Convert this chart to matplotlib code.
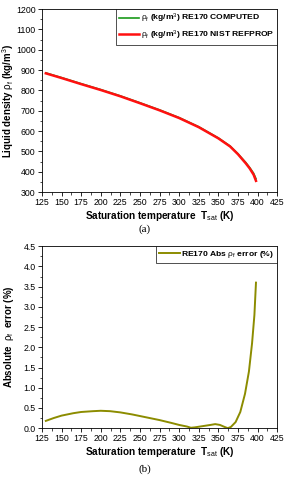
import numpy as np
import matplotlib
matplotlib.use("Agg")
import matplotlib.pyplot as plt
from matplotlib.ticker import MultipleLocator

plt.rcParams['font.family'] = ['Liberation Sans', 'DejaVu Sans']
plt.rcParams['mathtext.fontset'] = 'custom'
plt.rcParams['mathtext.rm'] = 'Liberation Sans'
plt.rcParams['mathtext.it'] = 'Liberation Sans'
plt.rcParams['mathtext.bf'] = 'Liberation Sans:bold'

# Liquid density (a)
t_dens = [130, 150, 175, 200, 225, 250, 275, 300, 325, 350, 365, 375, 385, 390, 395, 398]
rho_computed = [886, 863, 833, 804, 773, 739, 704, 666, 621, 566, 526, 488, 445, 420, 392, 365]
rho_nist = [884, 861, 831, 802, 771, 737, 702, 664, 619, 564, 524, 486, 441, 416, 385, 355]

# Absolute error (b)
t_err = [130, 140, 150, 165, 175, 190, 200, 212, 225, 240, 250, 265, 275, 290, 300, 310, 315,
         320, 330, 340, 346, 352, 358, 362, 366, 372, 378, 384, 389, 393, 396, 398]
abs_err = [0.18, 0.25, 0.31, 0.37, 0.40, 0.42, 0.43, 0.42, 0.39, 0.34, 0.30, 0.24, 0.20, 0.13, 0.08, 0.04, 0.01,
           0.02, 0.05, 0.08, 0.10, 0.08, 0.03, 0.0, 0.03, 0.15, 0.40, 0.85, 1.40, 2.10, 2.80, 3.60]

fig = plt.figure(figsize=(2.89, 4.80), dpi=100)
ax1 = fig.add_axes([0.145, 0.600, 0.814, 0.381])
ax2 = fig.add_axes([0.145, 0.108, 0.814, 0.379])

fs = 6.3

ax1.plot(t_dens, rho_nist, color='#ff1010', lw=1.8, label=r'$\rho_f$ (kg/m$^3$) RE170 NIST REFPROP', zorder=2)
ax1.plot(t_dens, rho_computed, color='#1a9a1a', lw=1.2, label=r'$\rho_f$ (kg/m$^3$) RE170 COMPUTED', zorder=1)
ax1.set_xlim(125, 425)
ax1.set_ylim(300, 1200)
ax1.yaxis.set_major_locator(MultipleLocator(100))
ax1.yaxis.set_minor_locator(MultipleLocator(50))
ax1.set_ylabel(r'Liquid density $\rho_f$ (kg/m$^3$)', fontsize=7.0, fontweight='bold')

ax2.plot(t_err, abs_err, color='#8c8c00', lw=1.4, label=r'RE170 Abs $\rho_f$ error (%)')
ax2.set_xlim(125, 425)
ax2.set_ylim(0, 4.5)
ax2.yaxis.set_major_locator(MultipleLocator(0.5))
ax2.yaxis.set_minor_locator(MultipleLocator(0.25))
ax2.yaxis.set_major_formatter(matplotlib.ticker.FormatStrFormatter('%.1f'))
ax2.set_ylabel(r'Absolute  $\rho_f$  error (%)', fontsize=7.0, fontweight='bold')

for ax in (ax1, ax2):
    ax.xaxis.set_major_locator(MultipleLocator(25))
    ax.xaxis.set_minor_locator(MultipleLocator(12.5))
    ax.tick_params(which='major', labelsize=fs, length=3, width=0.6, pad=1.5)
    ax.tick_params(which='minor', length=1.8, width=0.5)
    ax.set_xlabel(r'Saturation temperature  T$_{sat}$ (K)', fontsize=7.2, fontweight='bold', labelpad=1)
    ax.yaxis.set_label_coords(-0.11, 0.5)
    for s in ax.spines.values():
        s.set_linewidth(0.6)
    handles, labels = ax.get_legend_handles_labels()
    if len(handles) == 2:
        handles, labels = handles[::-1], labels[::-1]
    leg = ax.legend(handles, labels, loc='upper right', fontsize=6.1, frameon=True, fancybox=False,
                    borderaxespad=0, handlelength=2.4, handletextpad=0.2,
                    borderpad=0.35, labelspacing=0.35)
    leg.get_frame().set_edgecolor('black')
    leg.get_frame().set_linewidth(0.6)
    for txt in leg.get_texts():
        txt.set_fontweight('bold')

fig.text(0.5, 0.522, '(a)', ha='center', va='center', fontsize=8, family='Liberation Serif')
fig.text(0.5, 0.022, '(b)', ha='center', va='center', fontsize=8, family='Liberation Serif')

fig.savefig('out.png', dpi=100)
